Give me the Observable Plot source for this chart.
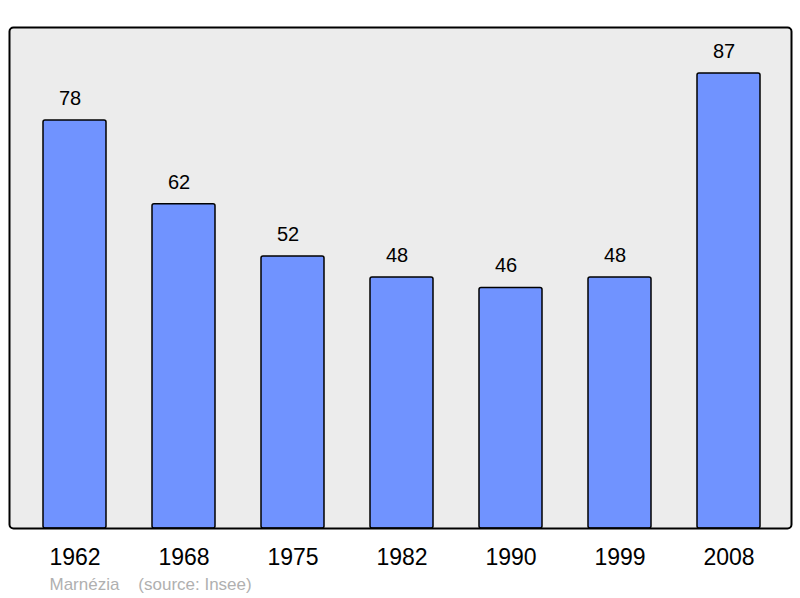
<!DOCTYPE html>
<html>
<head>
<meta charset="utf-8">
<script src="https://cdn.jsdelivr.net/npm/d3@7"></script>
<script src="https://cdn.jsdelivr.net/npm/@observablehq/plot@0.6"></script>
<style>
  html, body { margin: 0; padding: 0; background: #ffffff; }
  svg { display: block; }
</style>
</head>
<body>
<div id="chart"></div>
<script>
const years = ["1962", "1968", "1975", "1982", "1990", "1999", "2008"];
const population = [78, 62, 52, 48, 46, 48, 87];
const footer = ["Marnézia\u00a0\u00a0\u00a0\u00a0(source: Insee)"];

const data = years.map((year, i) => ({year, value: population[i]}));
const font = "'Liberation Sans', Arial, sans-serif";

const chart = Plot.plot({
  width: 800,
  height: 598,
  marginLeft: 9,
  marginRight: 9,
  marginTop: 27,
  marginBottom: 70,
  style: {fontFamily: font, background: "#ffffff", color: "#000000"},
  x: {domain: years, type: "band", range: [42, 761.5], paddingInner: 0.424, paddingOuter: 0, label: null},
  y: {domain: [0, 95.8], axis: null},
  marks: [
    Plot.frame({fill: "#ececec", stroke: "none", rx: 4}),
    Plot.barY(data, {x: "year", y: "value", fill: "#7093ff", stroke: "#000000", strokeWidth: 1.5, rx: 2}),
    Plot.text(data, {x: "year", y: "value", text: d => String(d.value), dy: -22, dx: -5, lineAnchor: "middle", fontSize: 20, fill: "#000000"}),
    Plot.frame({fill: "none", stroke: "#000000", strokeWidth: 2, rx: 4}),
    Plot.axisX({tickSize: 0, tickPadding: 20, fontSize: 23, label: null, fill: "#000000"}),
    Plot.text(footer, {text: d => d, frameAnchor: "bottom-left", dx: 40, dy: 61, lineAnchor: "bottom", textAnchor: "start", fontSize: 17, fill: "#b0b0b0"})
  ]
});
document.getElementById("chart").append(chart);
</script>
</body>
</html>
